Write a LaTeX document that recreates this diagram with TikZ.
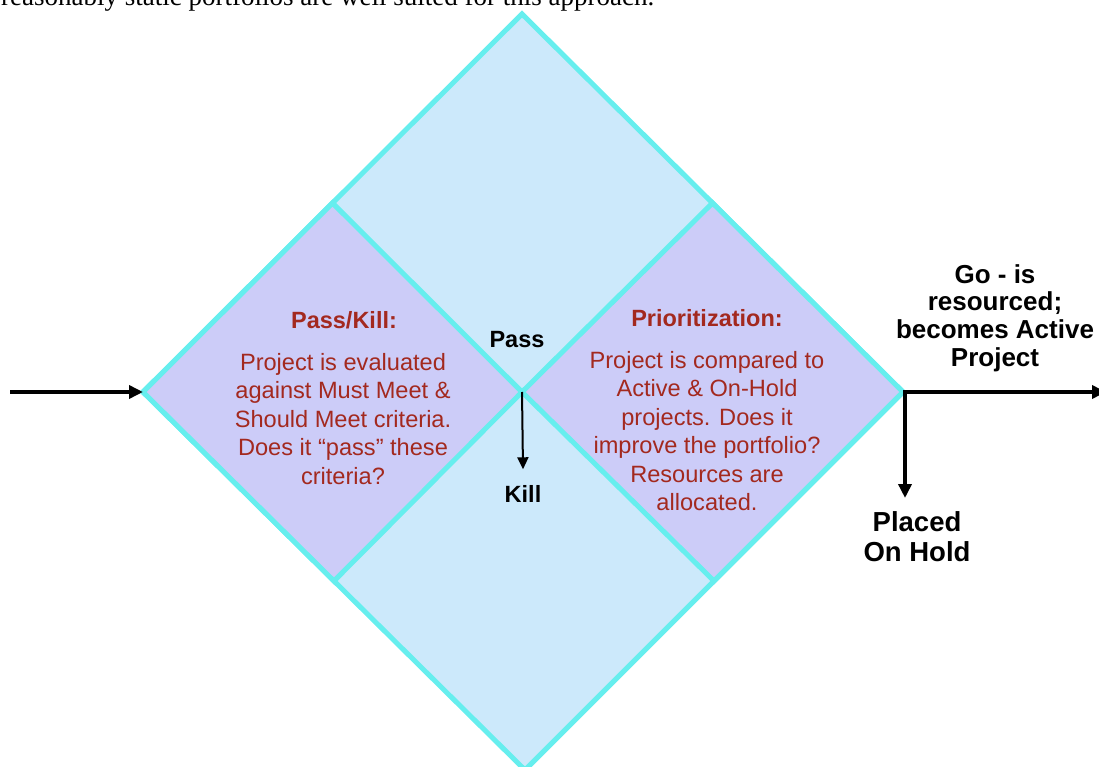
\documentclass[tikz,border=0pt]{standalone}
\usepackage{fontspec}
\setmainfont{Liberation Serif}
\setsansfont{Liberation Sans}
\usetikzlibrary{arrows.meta,calc}
\definecolor{sky}{HTML}{CCE9FB}
\definecolor{lilac}{HTML}{CCCCF8}
\definecolor{rim}{HTML}{66EEEE}
\definecolor{rust}{HTML}{A3291F}

\begin{document}
\begin{tikzpicture}[x=1pt,y=-1pt,>={Triangle[length=14pt,width=13pt]},
    face/.style={draw=rim,line width=5pt,line join=miter},
    flow/.style={->,line width=4pt,black},
    head/.style={rust,font=\sffamily\bfseries\fontsize{23.5}{28}\selectfont,inner sep=0pt},
    body/.style={rust,font=\sffamily\fontsize{23.6}{28.5}\selectfont,align=center,inner sep=0pt},
    tag/.style={black,font=\sffamily\bfseries\fontsize{23.5}{27.7}\selectfont,align=center,inner sep=0pt}]
  \useasboundingbox (0,0) rectangle (1099,767);

  % corners of the big diamond
  \coordinate (N) at (522,14);
  \coordinate (W) at (143,392);
  \coordinate (S) at (525,770);
  \coordinate (E) at (903,392);
  \coordinate (C) at (522,392);
  \coordinate (NW) at ($(N)!0.5!(W)$);
  \coordinate (NE) at ($(N)!0.5!(E)$);
  \coordinate (SW) at ($(S)!0.5!(W)$);
  \coordinate (SE) at ($(S)!0.5!(E)$);

  % page text above, cut by the page edge
  \node[anchor=base west,inner sep=0pt,font=\fontsize{27}{30}\selectfont] (intro) at (1,6)
    {reasonably static portfolios are well suited for this approach.};

  % the squares
  \filldraw[face,fill=sky] (N) -- (E) -- (S) -- (W) -- cycle;
  \filldraw[face,fill=lilac] (W) -- (NW) -- (C) -- (SW) -- cycle;
  \filldraw[face,fill=lilac] (C) -- (NE) -- (E) -- (SE) -- cycle;

  % pass/kill square
  \node[head] (killhead) at (344,320) {Pass/Kill:};
  \node[body] (killtext) at (343,419) {Project is evaluated\\against Must Meet \&\\Should Meet criteria.\\Does it “pass” these\\criteria?};

  % prioritization square
  \node[head] (priohead) at (707,318) {Prioritization:};
  \node[body] (priotext) at (707,431) {Project is compared to\\Active \& On-Hold\\projects. Does it\\improve the portfolio?\\Resources are\\allocated.};

  % labels
  \node[tag] (pass) at (517,340) {Pass};
  \node[tag] (kill) at (523,494) {Kill};
  \node[tag,font=\sffamily\bfseries\fontsize{26}{27.7}\selectfont] (go) at (995,318) {Go - is\\resourced;\\becomes Active\\Project};
  \node[tag,font=\sffamily\bfseries\fontsize{27.5}{30}\selectfont] (hold) at (917,537) {Placed\\On Hold};

  % arrows
  \coordinate (in) at (10,392);
  \coordinate (out) at (1106,392);
  \draw[flow] (in) -- (W);
  \draw[flow] (E) -- (out);
  \draw[flow] (905,390) -- ($(905,390)!1!(905,498)$) coordinate (down);
  \draw[->,line width=2pt,>={Triangle[length=12pt,width=11pt]}] (C) -- ($(kill.north)+(0,-16)$);
\end{tikzpicture}
\end{document}
